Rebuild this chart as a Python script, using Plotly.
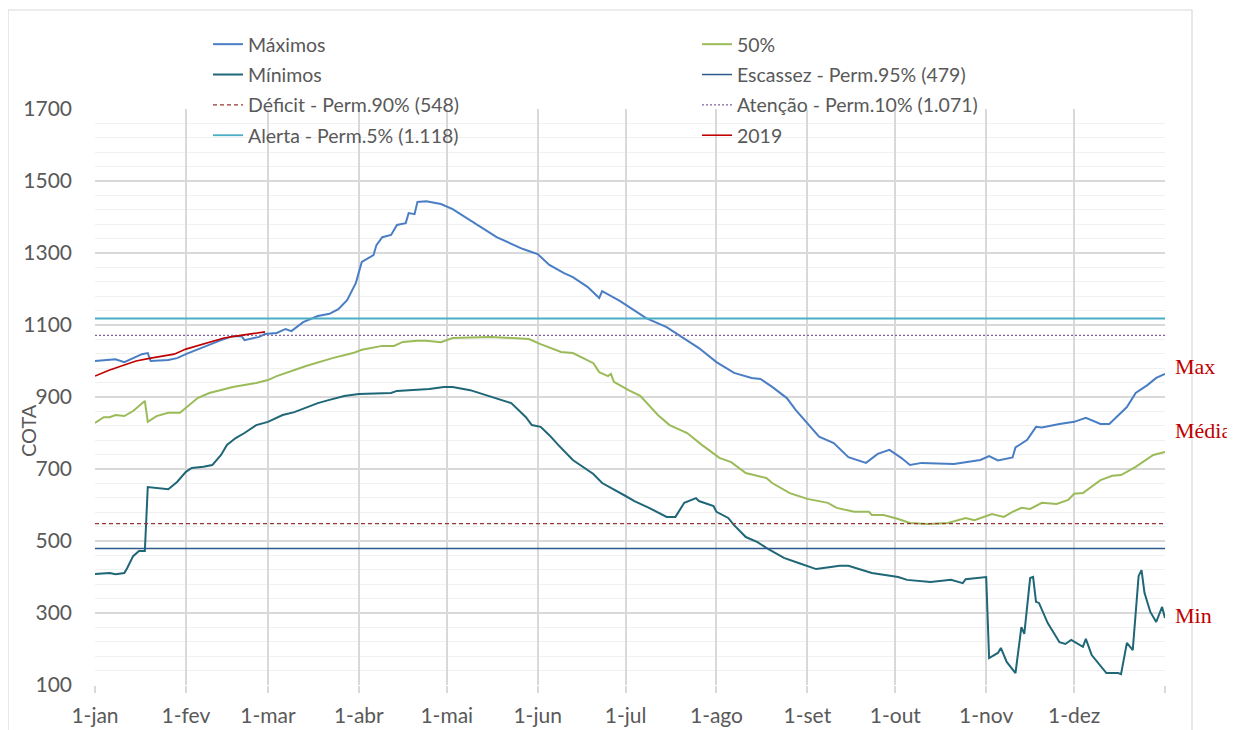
import plotly.graph_objects as go

# ---- data (day of year, value) ----
max_days = [0, 6, 7, 10, 13, 16, 18, 19, 25, 28, 31, 36, 39, 43, 47, 50, 51, 56, 58, 62, 65, 67, 71, 76, 80,
            83, 86, 89, 91, 95, 96, 98, 101, 103, 106, 107, 109, 110, 113, 118, 122, 130, 137, 146, 151, 155,
            160, 163, 168, 172, 173, 179, 188, 195, 200, 206, 212, 218, 224, 227, 231, 236, 239, 247, 252,
            257, 263, 267, 271, 275, 278, 282, 293, 302, 305, 308, 313, 314, 318, 321, 323, 329, 334, 338,
            343, 346, 352, 355, 359, 362, 365]
max_vals = [1000, 1003, 1005, 997, 1008, 1019, 1022, 1000, 1003, 1008, 1019, 1036, 1044, 1058, 1069, 1069, 1058,
            1067, 1075, 1078, 1089, 1083, 1108, 1125, 1131, 1144, 1169, 1217, 1275, 1294, 1322, 1344, 1350,
            1378, 1383, 1411, 1408, 1442, 1444, 1436, 1422, 1381, 1344, 1311, 1297, 1267, 1244, 1233, 1206,
            1175, 1194, 1167, 1119, 1094, 1067, 1036, 997, 967, 953, 950, 928, 897, 864, 790, 772, 733, 717,
            742, 753, 731, 711, 717, 714, 725, 736, 724, 732, 760, 781, 817, 815, 825, 831, 842, 825, 825,
            872, 911, 933, 953, 964]

mid_days = [0, 3, 5, 7, 10, 13, 17, 18, 21, 25, 29, 31, 35, 39, 47, 55, 59, 62, 72, 81, 88, 91, 98, 102, 105,
            110, 113, 118, 122, 135, 148, 152, 159, 163, 170, 172, 175, 176, 177, 182, 186, 192, 196, 202, 207,
            213, 217, 222, 229, 231, 237, 243, 250, 253, 259, 264, 265, 269, 274, 278, 284, 291, 297, 300, 306,
            310, 313, 316, 319, 323, 328, 332, 334, 337, 343, 347, 350, 355, 361, 365]
mid_vals = [828, 844, 844, 850, 847, 861, 889, 831, 847, 856, 856, 869, 897, 911, 928, 939, 947, 958, 986, 1008,
            1022, 1031, 1042, 1042, 1053, 1056, 1056, 1052, 1064, 1067, 1061, 1047, 1025, 1022, 994, 969, 958,
            964, 942, 919, 903, 850, 822, 800, 767, 731, 719, 689, 675, 661, 633, 617, 606, 592, 581, 581, 572,
            572, 561, 550, 547, 550, 564, 558, 575, 567, 581, 592, 589, 606, 603, 614, 631, 633, 669, 681, 683,
            706, 739, 747]

min_days = [0, 5, 7, 10, 11, 13, 15, 17, 18, 25, 28, 31, 33, 37, 40, 43, 45, 48, 51, 55, 59, 64, 68, 71, 76, 80,
            85, 90, 101, 103, 114, 119, 122, 128, 130, 136, 142, 147, 149, 152, 155, 158, 163, 170, 173, 181,
            184, 189, 195, 198, 201, 205, 206, 211, 212, 216, 218, 222, 226, 229, 235, 240, 246, 251, 254, 257,
            262, 265, 274, 277, 285, 292, 296, 297, 304, 305, 308, 309, 311, 314, 316, 317, 319, 320, 321, 322,
            325, 329, 331, 333, 337, 338, 340, 345, 349, 350, 352, 354, 356, 357, 358, 360, 362, 364, 365]
min_vals = [408, 411, 408, 411, 425, 458, 472, 472, 650, 644, 664, 692, 703, 706, 711, 739, 767, 786, 800, 822,
            831, 850, 858, 867, 883, 892, 903, 908, 911, 917, 922, 928, 928, 919, 914, 900, 883, 844, 822, 817,
            794, 767, 725, 686, 661, 625, 611, 592, 567, 567, 606, 619, 611, 597, 581, 564, 544, 511, 497, 481,
            453, 439, 422, 428, 431, 431, 419, 411, 400, 392, 386, 392, 383, 394, 400, 175, 189, 203, 164, 133,
            261, 242, 397, 400, 331, 328, 272, 219, 214, 225, 206, 228, 183, 133, 133, 130, 217, 197, 403,
            419, 356, 303, 275, 317, 286]

y2019_days = [0, 5, 10, 14, 19, 27, 31, 37, 44, 48, 53, 58]
y2019_vals = [958, 975, 989, 1000, 1008, 1019, 1033, 1047, 1064, 1069, 1075, 1081]

ref_escassez = 479
ref_deficit = 548
ref_atencao = 1071
ref_alerta = 1118

month_ticks = [0, 31, 59, 90, 120, 151, 181, 212, 243, 273, 304, 334, 365]
month_labels = ["1-jan", "1-fev", "1-mar", "1-abr", "1-mai", "1-jun", "1-jul", "1-ago", "1-set",
                "1-out", "1-nov", "1-dez", ""]

year_span = [0, 365]

fig = go.Figure()

def add_line(x, y, name, color, width=2, dash="solid", legend="legend"):
    fig.add_trace(go.Scatter(x=x, y=y, mode="lines", name=name, legend=legend, legendgroup=name,
                             line=dict(color=color, width=width, dash=dash),
                             hoverinfo="skip"))

add_line(max_days, max_vals, "Máximos", "#4A7EC4", 2)
add_line(mid_days, mid_vals, "50%", "#9BBB59", 2, legend="legend2")
add_line(min_days, min_vals, "Mínimos", "#1F6677", 2)
add_line(year_span, [ref_escassez] * 2, "Escassez - Perm.95% (479)", "#2F5A8C", 1.5, legend="legend2")
add_line(year_span, [ref_deficit] * 2, "Déficit - Perm.90% (548)", "#953735", 1.3, "4px,3px")
add_line(year_span, [ref_atencao] * 2, "Atenção - Perm.10% (1.071)", "#8064A2", 1.3, "2px,2px", legend="legend2")
add_line(year_span, [ref_alerta] * 2, "Alerta - Perm.5% (1.118)", "#4BACC6", 1.8)
add_line(y2019_days, y2019_vals, "2019", "#C00000", 1.6, legend="legend2")

grid = "#D9D9D9"
txt = "#595959"

# page body has an 8px margin, so the figure is sized/offset accordingly
L, T, PW, PH = 87, 101, 1070, 576
FW, FH = 1227, 722

def px_x(p):
    return (p - L) / PW

def px_y(p):
    return (T + PH - p) / PH

legend_common = dict(orientation="v", yanchor="top", xanchor="left",
                     font=dict(size=19.5, color=txt), bgcolor="rgba(0,0,0,0)",
                     tracegroupgap=2, traceorder="grouped")

fig.update_layout(
    width=FW, height=FH,
    margin=dict(l=L, r=FW - L - PW, t=T, b=FH - T - PH, autoexpand=False),
    paper_bgcolor="white", plot_bgcolor="white",
    font=dict(family="Lato", color=txt, size=18),
    showlegend=True,
    legend=dict(x=px_x(200), y=px_y(17), **legend_common),
    legend2=dict(x=px_x(689), y=px_y(17), **legend_common),
    xaxis=dict(range=[0, 365], tickvals=month_ticks, ticktext=month_labels,
               showgrid=True, gridcolor=grid, gridwidth=1.5,
               ticks="outside", ticklen=7, tickcolor=grid, tickwidth=1.5,
               zeroline=False, showline=False, automargin=False,
               tickfont=dict(size=21, color=txt), ticklabelstandoff=5),
    yaxis=dict(range=[100, 1700], tick0=100, dtick=200,
               showgrid=True, gridcolor=grid, gridwidth=1.5,
               minor=dict(dtick=40, tick0=100, showgrid=True, gridcolor="#F0F0F0", gridwidth=1.2),
               zeroline=False, showline=False, automargin=False,
               tickfont=dict(size=21, color=txt), ticklabelstandoff=22),
)

# y-axis title
fig.add_annotation(text="COTA", xref="paper", yref="paper",
                   x=px_x(20), y=px_y(423), textangle=-90,
                   showarrow=False, font=dict(size=20, color=txt),
                   xanchor="center", yanchor="middle")

# right-side labels
for label, val in [("Max", 986), ("Média", 806), ("Min", 292)]:
    fig.add_annotation(text=label, xref="paper", yref="y", x=1.0 + 8 / PW, y=val,
                       showarrow=False, xanchor="left", yanchor="middle",
                       font=dict(family="Liberation Serif", size=22, color="#C00000"))

# outer chart border
fig.add_shape(type="rect", xref="paper", yref="paper",
              x0=px_x(0), x1=px_x(1184),
              y0=px_y(740), y1=px_y(2),
              line=dict(color=grid, width=1.2), fillcolor="rgba(0,0,0,0)", layer="below")

fig.write_html("out.html")
